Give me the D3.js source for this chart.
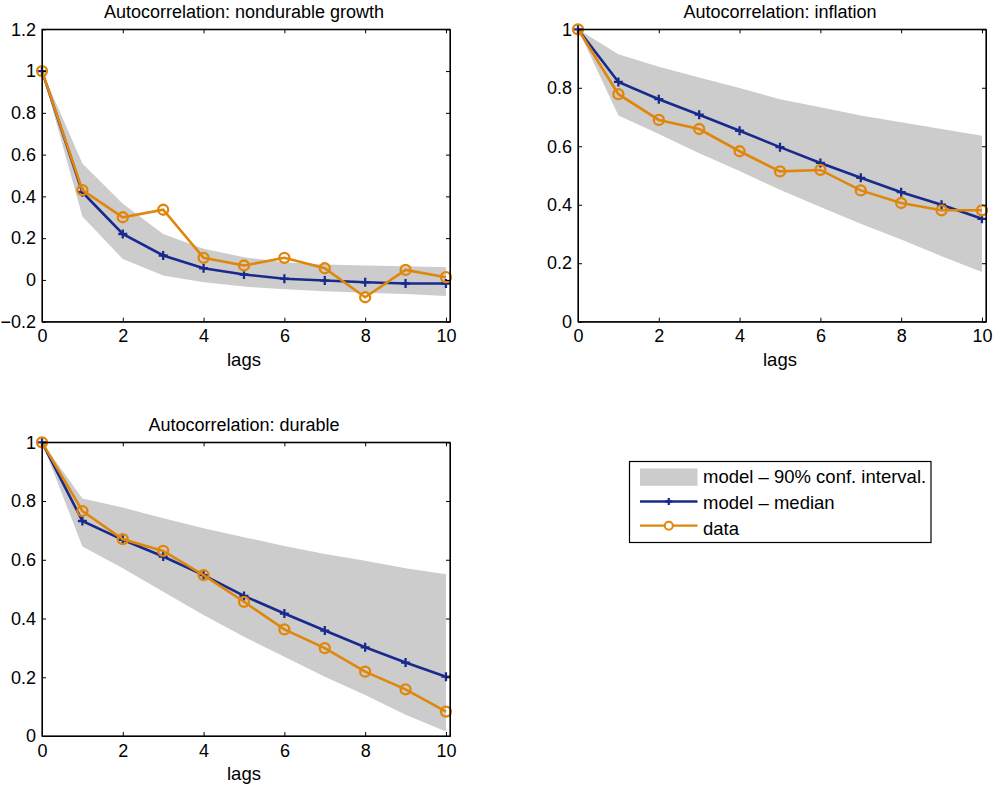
<!DOCTYPE html>
<html>
<head>
<meta charset="utf-8">
<script src="https://cdn.jsdelivr.net/npm/d3@7"></script>
<style>
  body { margin: 0; background: #fff; }
  text { font-family: "Liberation Sans", Arial, sans-serif; fill: #000; }
</style>
</head>
<body>
<div id="chart"></div>
<script>
// lags 0..10
var lags = [0, 1, 2, 3, 4, 5, 6, 7, 8, 9, 10];

// nondurable growth
var ndMedian = [1, 0.42, 0.22, 0.117, 0.056, 0.026, 0.006, -0.003, -0.011, -0.017, -0.017];
var ndData   = [1, 0.43, 0.30, 0.336, 0.106, 0.069, 0.106, 0.056, -0.083, 0.048, 0.013];
var ndUpper  = [1, 0.557, 0.365, 0.22, 0.149, 0.109, 0.085, 0.074, 0.069, 0.066, 0.061];
var ndLower  = [1, 0.304, 0.10, 0.021, -0.011, -0.032, -0.045, -0.054, -0.061, -0.067, -0.077];

// inflation
var infMedian = [1, 0.820, 0.761, 0.708, 0.653, 0.597, 0.543, 0.492, 0.443, 0.400, 0.352];
var infData   = [1, 0.778, 0.690, 0.659, 0.583, 0.514, 0.519, 0.449, 0.406, 0.381, 0.381];
var infUpper  = [1, 0.915, 0.872, 0.835, 0.799, 0.761, 0.733, 0.705, 0.682, 0.659, 0.636];
var infLower  = [1, 0.705, 0.642, 0.576, 0.515, 0.451, 0.392, 0.335, 0.281, 0.224, 0.170];

// durable
var durMedian = [1, 0.732, 0.668, 0.611, 0.548, 0.477, 0.417, 0.359, 0.302, 0.250, 0.202];
var durData   = [1, 0.766, 0.670, 0.630, 0.548, 0.457, 0.363, 0.299, 0.219, 0.159, 0.083];
var durUpper  = [1, 0.809, 0.778, 0.741, 0.707, 0.677, 0.647, 0.620, 0.597, 0.571, 0.551];
var durLower  = [1, 0.645, 0.571, 0.491, 0.412, 0.338, 0.270, 0.202, 0.140, 0.072, 0.015];

var xTicks = [0, 2, 4, 6, 8, 10];
var legendLabels = ["model \u2013 90% conf. interval.", "model \u2013 median", "data"];

var blue = "#1a2a8c";
var orange = "#e0860a";
var grey = "#cccccc";

var svg = d3.select("#chart").append("svg")
  .attr("width", 993)
  .attr("height", 789);

var panels = [
  { title: "Autocorrelation: nondurable growth", left: 42, top: 29.3, w: 408, h: 292.4,
    ydom: [-0.2, 1.2], yticks: [-0.2, 0, 0.2, 0.4, 0.6, 0.8, 1, 1.2],
    median: ndMedian, data: ndData, upper: ndUpper, lower: ndLower },
  { title: "Autocorrelation: inflation", left: 578, top: 29.3, w: 408, h: 292.4,
    ydom: [0, 1], yticks: [0, 0.2, 0.4, 0.6, 0.8, 1],
    median: infMedian, data: infData, upper: infUpper, lower: infLower },
  { title: "Autocorrelation: durable", left: 42, top: 442.3, w: 408, h: 293.7,
    ydom: [0, 1], yticks: [0, 0.2, 0.4, 0.6, 0.8, 1],
    median: durMedian, data: durData, upper: durUpper, lower: durLower }
];

function fmt(v) {
  var s = String(Math.abs(+v.toFixed(1)));
  return v < 0 ? "\u2212" + s : s;
}

panels.forEach(function(p) {
  var g = svg.append("g").attr("transform", `translate(${p.left}, ${p.top})`);
  var x = d3.scaleLinear().domain([0, 10.1]).range([0, p.w]);
  var y = d3.scaleLinear().domain(p.ydom).range([p.h, 0]);

  // confidence band
  var area = d3.area()
    .x(function(d, i) { return x(lags[i]); })
    .y0(function(d, i) { return y(p.lower[i]); })
    .y1(function(d, i) { return y(p.upper[i]); });
  g.append("path").datum(lags).attr("d", area).attr("fill", grey);

  var line = d3.line().x(function(d) { return x(d[0]); }).y(function(d) { return y(d[1]); });
  var med = lags.map(function(l, i) { return [l, p.median[i]]; });
  var dat = lags.map(function(l, i) { return [l, p.data[i]]; });

  g.append("path").datum(med).attr("d", line)
    .attr("fill", "none").attr("stroke", blue).attr("stroke-width", 2.6);
  g.selectAll(".plus").data(med).enter().append("path")
    .attr("d", function(d) {
      var cx = x(d[0]), cy = y(d[1]);
      return `M${cx - 4.5},${cy}H${cx + 4.5}M${cx},${cy - 4.5}V${cy + 4.5}`;
    })
    .attr("stroke", blue).attr("stroke-width", 2.3);

  g.append("path").datum(dat).attr("d", line)
    .attr("fill", "none").attr("stroke", orange).attr("stroke-width", 2.6);
  g.selectAll(".circ").data(dat).enter().append("circle")
    .attr("cx", function(d) { return x(d[0]); })
    .attr("cy", function(d) { return y(d[1]); })
    .attr("r", 5)
    .attr("fill", "none").attr("stroke", orange).attr("stroke-width", 2.3);

  // axes with inward ticks on all sides
  var bottom = d3.axisBottom(x).tickValues(xTicks).tickSizeInner(-4).tickSizeOuter(0).tickPadding(8)
    .tickFormat(d3.format("d"));
  var top = d3.axisTop(x).tickValues(xTicks).tickSizeInner(-4).tickSizeOuter(0).tickFormat("");
  var left = d3.axisLeft(y).tickValues(p.yticks).tickSizeInner(-4).tickSizeOuter(0).tickPadding(6)
    .tickFormat(fmt);
  var right = d3.axisRight(y).tickValues(p.yticks).tickSizeInner(-4).tickSizeOuter(0).tickFormat("");

  [g.append("g").attr("transform", `translate(0, ${p.h})`).call(bottom),
   g.append("g").call(top),
   g.append("g").call(left),
   g.append("g").attr("transform", `translate(${p.w}, 0)`).call(right)].forEach(function(a) {
    a.selectAll("path, line").attr("stroke", "#000").attr("stroke-width", 1);
    a.selectAll("text").attr("font-size", "18px").attr("fill", "#000")
      .style("font-family", "'Liberation Sans', Arial, sans-serif");
  });

  g.append("rect").attr("width", p.w).attr("height", p.h)
    .attr("fill", "none").attr("stroke", "#000").attr("stroke-width", 1.2);

  g.append("text")
    .attr("x", x(5)).attr("y", -11)
    .attr("text-anchor", "middle")
    .attr("font-size", "18px")
    .text(p.title);

  g.append("text")
    .attr("x", x(5)).attr("y", p.h + 44)
    .attr("text-anchor", "middle")
    .attr("font-size", "18.5px")
    .text("lags");
});

// legend
var lg = svg.append("g").attr("transform", "translate(629.5, 461.5)");
lg.append("rect").attr("width", 301.5).attr("height", 81)
  .attr("fill", "#fff").attr("stroke", "#000").attr("stroke-width", 1.2);
lg.append("rect").attr("x", 10.5).attr("y", 7).attr("width", 57.5).attr("height", 17.3).attr("fill", grey);
lg.append("line").attr("x1", 10.5).attr("x2", 68).attr("y1", 40).attr("y2", 40)
  .attr("stroke", blue).attr("stroke-width", 2.3);
lg.append("path").attr("d", "M39.3,36.5V43.5M35.8,40H42.8").attr("stroke", blue).attr("stroke-width", 2.3);
lg.append("line").attr("x1", 10.5).attr("x2", 68).attr("y1", 64.2).attr("y2", 64.2)
  .attr("stroke", orange).attr("stroke-width", 2.3);
lg.append("circle").attr("cx", 39.3).attr("cy", 64.2).attr("r", 4)
  .attr("fill", "#fff").attr("stroke", orange).attr("stroke-width", 2);
lg.selectAll(".lt").data(legendLabels).enter().append("text")
  .attr("x", 73.5)
  .attr("y", function(d, i) { return 21.5 + i * 26; })
  .attr("font-size", "18.5px")
  .text(function(d) { return d; });
</script>
</body>
</html>
